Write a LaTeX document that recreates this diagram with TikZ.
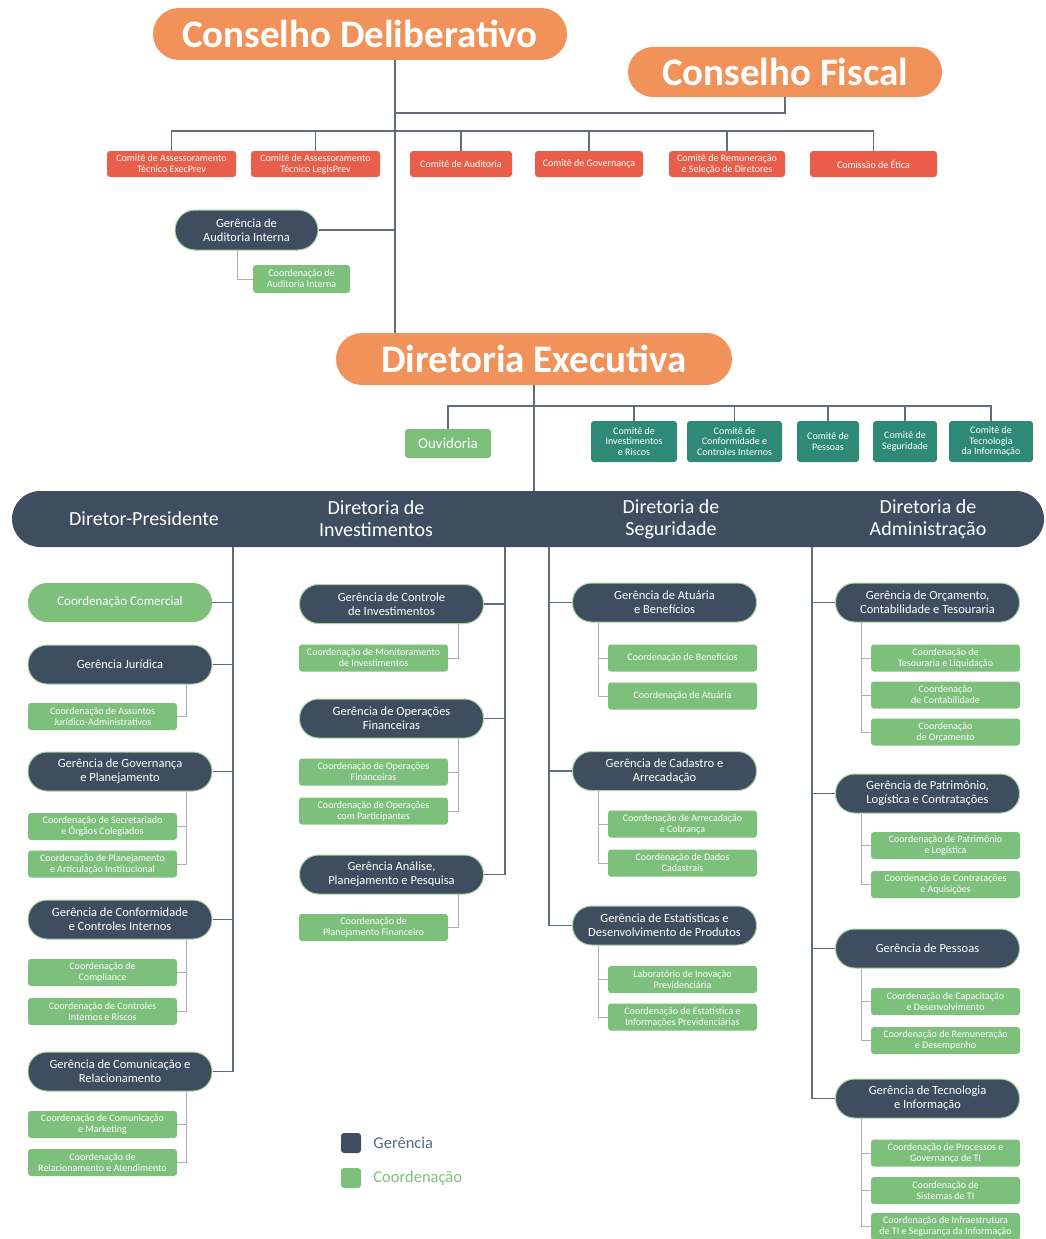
\documentclass[tikz,border=0pt]{standalone}
\usepackage{fontspec}
\setmainfont{Carlito}
\usetikzlibrary{calc,positioning}
\definecolor{laranja}{RGB}{241,146,90}
\definecolor{vermelho}{RGB}{232,94,74}
\definecolor{marinho}{RGB}{62,78,96}
\definecolor{verde}{RGB}{124,192,124}
\definecolor{verdeborda}{RGB}{170,214,160}
\definecolor{petroleo}{RGB}{46,138,118}
\definecolor{linha}{RGB}{98,108,124}

\begin{document}
\begin{tikzpicture}[x=1pt,y=-1pt,
                conselho/.style={fill=laranja,text=white,rounded corners=26pt,minimum height=52pt,font=\fontsize{39}{42}\bfseries\selectfont},
                comite/.style={fill=vermelho,text=white,rounded corners=3pt,minimum height=26pt,align=center,inner sep=1pt,font=\fontsize{10}{11}\selectfont},
                comiteexec/.style={fill=petroleo,text=white,rounded corners=3pt,minimum height=41pt,align=center,inner sep=1pt,font=\fontsize{10}{10.5}\selectfont},
                gerencia/.style={fill=marinho,draw=verdeborda,line width=1pt,text=white,rounded corners=19pt,minimum width=184pt,minimum height=39pt,align=center,font=\fontsize{12.5}{14}\selectfont},
                coord/.style={fill=verde,text=white,rounded corners=3pt,minimum width=149pt,minimum height=27pt,align=center,inner sep=1pt,font=\fontsize{10}{11}\selectfont},
                banda/.style={text=white,align=center,font=\fontsize{20}{22}\selectfont},
                ligacao/.style={draw=linha,line width=1.1pt},
                ramo/.style={draw=linha!55,line width=0.8pt}]
                \fill[white] (0,0) rectangle (1045,1239);
                \useasboundingbox (0,0) rectangle (1045,1239);

                \coordinate (tronco) at (395,0);
                \coordinate (jfiscal) at (395,113);
                \coordinate (barra) at (0,131);
                \coordinate (barra2) at (0,406);
                \coordinate (t1) at (233,0);
                \coordinate (t2) at (505,0);
                \coordinate (t3) at (549,0);
                \coordinate (t4) at (812,0);

                \node[conselho,minimum width=414pt] (deliberativo) at (360,34) {Conselho Deliberativo};
                \node[conselho,minimum width=314pt,rounded corners=25pt,minimum height=50pt] (fiscal) at (785,72) {Conselho Fiscal};

                \node[comite,minimum width=129pt] (execprev) at (171.5,164) {Comitê de Assessoramento\\Técnico ExecPrev};
                \node[comite,minimum width=129pt] (legisprev) at (315.5,164) {Comitê de Assessoramento\\Técnico LegisPrev};
                \node[comite,minimum width=102pt] (auditoria) at (461,164) {Comitê de Auditoria};
                \node[comite,minimum width=108pt] (cgovernanca) at (589,164) {Comitê de Governança};
                \node[comite,minimum width=116pt] (remuneracao) at (727,164) {Comitê de Remuneração\\e Seleção de Diretores};
                \node[comite,minimum width=127pt] (etica) at (873.5,164) {Comissão de Ética};

                \node[gerencia,minimum width=143pt,minimum height=40pt,rounded corners=20pt] (gauditoria) at (246.5,230) {Gerência de\\Auditoria Interna};
                \node[coord,minimum width=97pt,minimum height=28pt] (cauditoria) at (301.5,279) {Coordenação de\\Auditoria Interna};

                \node[conselho,minimum width=396pt] (executiva) at (534,359) {Diretoria Executiva};

                \node[coord,minimum width=86pt,minimum height=29pt,font=\fontsize{15}{17}\selectfont] (ouvidoria) at (448,443.5) {Ouvidoria};
                \node[comiteexec,minimum width=86pt] (cinvest) at (634,441.5) {Comitê de\\Investimentos\\e Riscos};
                \node[comiteexec,minimum width=95pt] (cconform) at (734.5,441.5) {Comitê de\\Conformidade e\\Controles Internos};
                \node[comiteexec,minimum width=62pt] (cpessoas) at (828,441.5) {Comitê de\\Pessoas};
                \node[comiteexec,minimum width=64pt] (cseguridade) at (905,441.5) {Comitê de\\Seguridade};
                \node[comiteexec,minimum width=84pt] (cti) at (991,441.5) {Comitê de\\Tecnologia\\da Informação};

                \node[fill=marinho,rounded corners=28pt,minimum width=1032pt,minimum height=56pt] (diretoria) at (528,519) {};
                \node[banda] (presidente) at (144,519) {Diretor-Presidente};
                \node[banda] (investimentos) at (376,519) {Diretoria de\\Investimentos};
                \node[banda] (seguridade) at (671,519) {Diretoria de\\Seguridade};
                \node[banda] (administracao) at (928,519) {Diretoria de\\Administração};

                \node[coord,rounded corners=19pt,minimum width=184pt,minimum height=39pt,font=\fontsize{13}{15}\selectfont] (comercial) at (120,602.5) {Coordenação Comercial};
                \node[gerencia] (juridica) at (120,664.5) {Gerência Jurídica};
                \node[coord] (cjuridica) at (102.5,716.5) {Coordenação de Assuntos\\Jurídico-Administrativos};
                \node[gerencia] (governanca) at (120,771.5) {Gerência de Governança\\e Planejamento};
                \node[coord] (csecretariado) at (102.5,826.5) {Coordenação de Secretariado\\e Órgãos Colegiados};
                \node[coord] (cplanejamento) at (102.5,864) {Coordenação de Planejamento\\e Articulação Institucional};
                \node[gerencia] (conformidade) at (120,919.5) {Gerência de Conformidade\\e Controles Internos};
                \node[coord] (ccompliance) at (102.5,972.5) {Coordenação de\\Compliance};
                \node[coord] (ccontroles) at (102.5,1011.5) {Coordenação de Controles\\Internos e Riscos};
                \node[gerencia] (comunicacao) at (120,1071.5) {Gerência de Comunicação e\\Relacionamento};
                \node[coord] (cmarketing) at (102.5,1124.5) {Coordenação de Comunicação\\e Marketing};
                \node[coord] (crelacionamento) at (102.5,1162.5) {Coordenação de\\Relacionamento e Atendimento};

                \node[gerencia] (gcontrole) at (391.5,604) {Gerência de Controle\\de Investimentos};
                \node[coord] (cmonitoramento) at (373.5,658) {Coordenação de Monitoramento\\de Investimentos};
                \node[gerencia] (goperacoes) at (391.5,718.5) {Gerência de Operações\\Financeiras};
                \node[coord] (coperacoes) at (373.5,772) {Coordenação de Operações\\Financeiras};
                \node[coord] (cparticipantes) at (373.5,811) {Coordenação de Operações\\com Participantes};
                \node[gerencia] (ganalise) at (391.5,874.5) {Gerência Análise,\\Planejamento e Pesquisa};
                \node[coord] (cfinanceiro) at (373.5,927.5) {Coordenação de\\Planejamento Financeiro};

                \node[gerencia] (gatuaria) at (664.5,602.5) {Gerência de Atuária\\e Benefícios};
                \node[coord] (cbeneficios) at (682.5,658) {Coordenação de Benefícios};
                \node[coord] (catuaria) at (682.5,696) {Coordenação de Atuária};
                \node[gerencia] (gcadastro) at (664.5,771) {Gerência de Cadastro e\\Arrecadação};
                \node[coord] (carrecadacao) at (682.5,824) {Coordenação de Arrecadação\\e Cobrança};
                \node[coord] (cdados) at (682.5,863) {Coordenação de Dados\\Cadastrais};
                \node[gerencia] (gestatisticas) at (664.5,925.5) {Gerência de Estatísticas e\\Desenvolvimento de Produtos};
                \node[coord] (claboratorio) at (682.5,979.5) {Laboratório de Inovação\\Previdenciária};
                \node[coord] (cestatistica) at (682.5,1017) {Coordenação de Estatística e\\Informações Previdenciárias};

                \node[gerencia] (gorcamento) at (927.5,602.5) {Gerência de Orçamento,\\Contabilidade e Tesouraria};
                \node[coord] (ctesouraria) at (945.5,658) {Coordenação de\\Tesouraria e Liquidação};
                \node[coord] (ccontabilidade) at (945.5,695) {Coordenação\\de Contabilidade};
                \node[coord] (corcamento) at (945.5,732) {Coordenação\\de Orçamento};
                \node[gerencia] (gpatrimonio) at (927.5,793.5) {Gerência de Patrimônio,\\Logística e Contratações};
                \node[coord] (cpatrimonio) at (945.5,845.5) {Coordenação de Patrimônio\\e Logística};
                \node[coord] (ccontratacoes) at (945.5,884.5) {Coordenação de Contratações\\e Aquisições};
                \node[gerencia] (gpessoas) at (927.5,948.5) {Gerência de Pessoas};
                \node[coord] (ccapacitacao) at (945.5,1001.5) {Coordenação de Capacitação\\e Desenvolvimento};
                \node[coord] (cremuneracao) at (945.5,1040.5) {Coordenação de Remuneração\\e Desempenho};
                \node[gerencia] (gtecnologia) at (927.5,1098.5) {Gerência de Tecnologia\\e Informação};
                \node[coord] (cprocessos) at (945.5,1153) {Coordenação de Processos e\\Governança de TI};
                \node[coord] (csistemas) at (945.5,1190.5) {Coordenação de\\Sistemas de TI};
                \node[coord] (cinfra) at (945.5,1226.5) {Coordenação de Infraestrutura\\de TI e Segurança da Informação};

                \node[fill=marinho,rounded corners=3pt,minimum size=20pt,inner sep=0pt] (legger) at (351,1143) {};
                \node[right=12pt of legger,text=marinho!85,inner sep=0pt,font=\fontsize{16.5}{18}\selectfont] (txtger) {Gerência};
                \node[fill=verde,rounded corners=3pt,minimum size=20pt,inner sep=0pt] (legcoord) at (351,1178) {};
                \node[right=12pt of legcoord,text=verde,inner sep=0pt,font=\fontsize{16.5}{18}\selectfont] (txtcoord) {Coordenação};

                \draw[ligacao] (deliberativo.south -| tronco) -- (executiva.north -| tronco);
                \draw[ligacao] (fiscal.south) |- (jfiscal);
                \draw[ligacao] (execprev.north) |- (barra -| etica.north) -- (etica.north);
                \draw[ligacao] (legisprev.north) -- (legisprev.north |- barra);
                \draw[ligacao] (auditoria.north) -- (auditoria.north |- barra);
                \draw[ligacao] (cgovernanca.north) -- (cgovernanca.north |- barra);
                \draw[ligacao] (remuneracao.north) -- (remuneracao.north |- barra);
                \draw[ligacao] (gauditoria.east) -- (gauditoria.east -| tronco);
                \coordinate (saud) at ($(gauditoria.south)+(-9,0)$);
                \draw[ramo] (saud) |- (cauditoria.west);

                \draw[ligacao] (executiva.south) -- (diretoria.north -| executiva.south);
                \draw[ligacao] (ouvidoria.north) |- (barra2 -| cti.north) -- (cti.north);
                \draw[ligacao] (cinvest.north) -- (cinvest.north |- barra2);
                \draw[ligacao] (cconform.north) -- (cconform.north |- barra2);
                \draw[ligacao] (cpessoas.north) -- (cpessoas.north |- barra2);
                \draw[ligacao] (cseguridade.north) -- (cseguridade.north |- barra2);

                \draw[ligacao] (diretoria.south -| t1) |- (comunicacao.east);
                \draw[ligacao] (comercial.east) -- (comercial.east -| t1);
                \draw[ligacao] (juridica.east) -- (juridica.east -| t1);
                \draw[ligacao] (governanca.east) -- (governanca.east -| t1);
                \draw[ligacao] (conformidade.east) -- (conformidade.east -| t1);

                \draw[ligacao] (diretoria.south -| t2) |- (ganalise.east);
                \draw[ligacao] (gcontrole.east) -- (gcontrole.east -| t2);
                \draw[ligacao] (goperacoes.east) -- (goperacoes.east -| t2);

                \draw[ligacao] (diretoria.south -| t3) |- (gestatisticas.west);
                \draw[ligacao] (gatuaria.west) -- (gatuaria.west -| t3);
                \draw[ligacao] (gcadastro.west) -- (gcadastro.west -| t3);

                \draw[ligacao] (diretoria.south -| t4) |- (gtecnologia.west);
                \draw[ligacao] (gorcamento.west) -- (gorcamento.west -| t4);
                \draw[ligacao] (gpatrimonio.west) -- (gpatrimonio.west -| t4);
                \draw[ligacao] (gpessoas.west) -- (gpessoas.west -| t4);

                \coordinate (sjur) at ($(juridica.south east)+(-26,0)$);
                \draw[ramo] (sjur) |- (cjuridica.east);
                \coordinate (sgov) at ($(governanca.south east)+(-26,0)$);
                \draw[ramo] (sgov) |- (cplanejamento.east);
                \draw[ramo] (csecretariado.east) -- (csecretariado.east -| sgov);
                \coordinate (sconf) at ($(conformidade.south east)+(-26,0)$);
                \draw[ramo] (sconf) |- (ccontroles.east);
                \draw[ramo] (ccompliance.east) -- (ccompliance.east -| sconf);
                \coordinate (scom) at ($(comunicacao.south east)+(-26,0)$);
                \draw[ramo] (scom) |- (crelacionamento.east);
                \draw[ramo] (cmarketing.east) -- (cmarketing.east -| scom);

                \coordinate (sctr) at ($(gcontrole.south east)+(-26,0)$);
                \draw[ramo] (sctr) |- (cmonitoramento.east);
                \coordinate (sope) at ($(goperacoes.south east)+(-26,0)$);
                \draw[ramo] (sope) |- (cparticipantes.east);
                \draw[ramo] (coperacoes.east) -- (coperacoes.east -| sope);
                \coordinate (sana) at ($(ganalise.south east)+(-26,0)$);
                \draw[ramo] (sana) |- (cfinanceiro.east);

                \coordinate (satu) at ($(gatuaria.south west)+(26,0)$);
                \draw[ramo] (satu) |- (catuaria.west);
                \draw[ramo] (cbeneficios.west) -- (cbeneficios.west -| satu);
                \coordinate (scad) at ($(gcadastro.south west)+(26,0)$);
                \draw[ramo] (scad) |- (cdados.west);
                \draw[ramo] (carrecadacao.west) -- (carrecadacao.west -| scad);
                \coordinate (sest) at ($(gestatisticas.south west)+(26,0)$);
                \draw[ramo] (sest) |- (cestatistica.west);
                \draw[ramo] (claboratorio.west) -- (claboratorio.west -| sest);

                \coordinate (sorc) at ($(gorcamento.south west)+(26,0)$);
                \draw[ramo] (sorc) |- (corcamento.west);
                \draw[ramo] (ctesouraria.west) -- (ctesouraria.west -| sorc);
                \draw[ramo] (ccontabilidade.west) -- (ccontabilidade.west -| sorc);
                \coordinate (spat) at ($(gpatrimonio.south west)+(26,0)$);
                \draw[ramo] (spat) |- (ccontratacoes.west);
                \draw[ramo] (cpatrimonio.west) -- (cpatrimonio.west -| spat);
                \coordinate (spes) at ($(gpessoas.south west)+(26,0)$);
                \draw[ramo] (spes) |- (cremuneracao.west);
                \draw[ramo] (ccapacitacao.west) -- (ccapacitacao.west -| spes);
                \coordinate (stec) at ($(gtecnologia.south west)+(26,0)$);
                \draw[ramo] (stec) |- (cinfra.west);
                \draw[ramo] (cprocessos.west) -- (cprocessos.west -| stec);
                \draw[ramo] (csistemas.west) -- (csistemas.west -| stec);
            \end{tikzpicture}
\end{document}
